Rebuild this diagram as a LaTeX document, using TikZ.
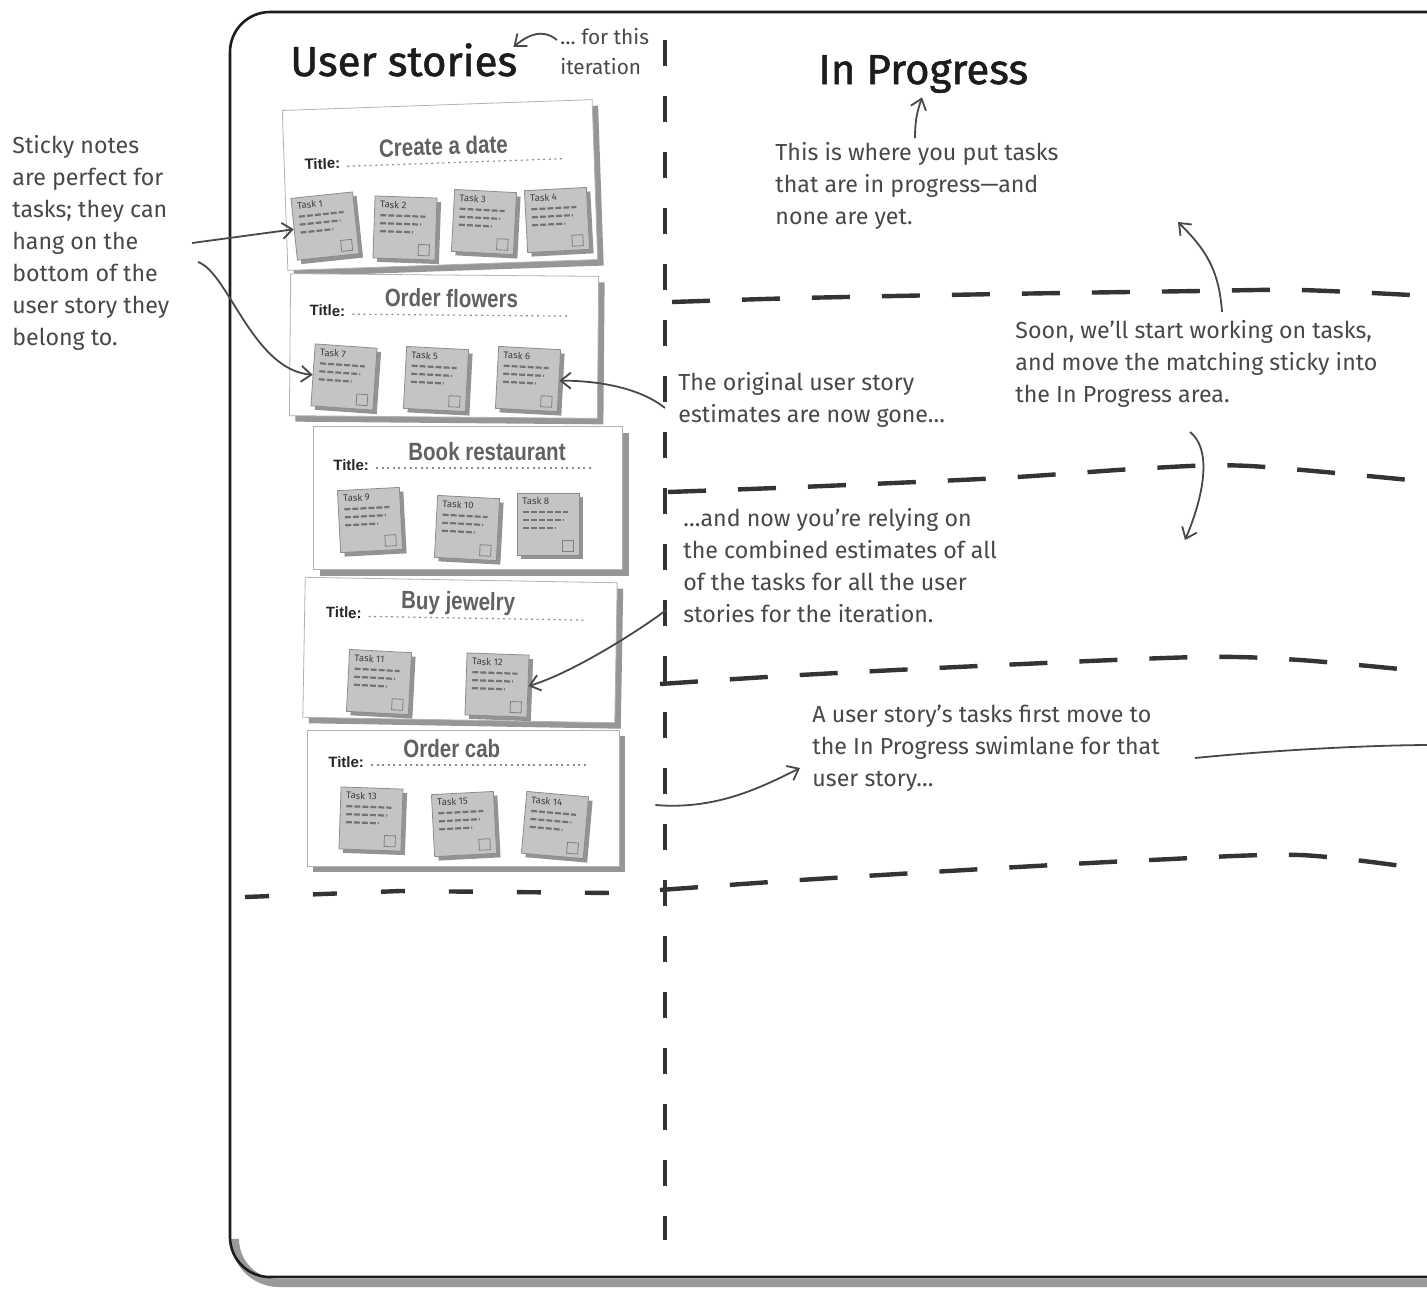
\documentclass[tikz,border=0pt]{standalone}
\usepackage{fontspec}
\setmainfont{Fira Sans}
\newfontfamily\headfont[FakeBold=1.3]{Fira Sans}
\newfontfamily\titlefont[FakeStretch=0.82]{Liberation Sans}
\newfontfamily\tagfont{Liberation Sans}
\usetikzlibrary{arrows.meta,shadows,calc}
\definecolor{pencil}{RGB}{72,72,72}
\definecolor{inkdark}{RGB}{28,28,28}
\definecolor{postit}{RGB}{196,196,196}
\definecolor{lanedash}{RGB}{52,52,52}

\begin{document}
\begin{tikzpicture}[x=0.5pt,y=-0.5pt,
    note/.style={font=\fontsize{11.6}{16}\selectfont,text=pencil,align=left,anchor=north west,inner sep=0pt},
    head/.style={font=\headfont\fontsize{21}{24}\selectfont,text=inkdark,anchor=base west,inner sep=0pt},
    card/.style={draw=black!30,fill=white,inner sep=0pt,drop shadow={shadow xshift=3pt,shadow yshift=-3pt,fill=black!75,opacity=.55}},
    titletag/.style={font=\tagfont\bfseries\fontsize{7.5}{8}\selectfont,text=black!85,anchor=base west,inner sep=0pt},
    titletxt/.style={font=\titlefont\bfseries\fontsize{12.5}{14}\selectfont,text=black!62,anchor=base west,inner sep=0pt},
    dotrule/.style={black!45,line width=0.6pt,dash pattern=on 1pt off 1.8pt},
    sticky/.style={draw=black!45,fill=postit,minimum width=31pt,minimum height=31pt,inner sep=0pt,drop shadow={shadow xshift=2pt,shadow yshift=-2pt,fill=black!70,opacity=.6}},
    tasktag/.style={font=\fontsize{4.8}{5}\selectfont,text=black!75,anchor=north west,inner sep=0pt},
    scribble/.style={black!55,line width=1.1pt,dash pattern=on 3pt off 1pt},
    lane/.style={lanedash,line width=2.2pt,dash pattern=on 19pt off 16pt},
    divider/.style={lanedash,line width=2pt,dash pattern=on 13pt off 15pt},
    hand/.style={pencil,line width=0.9pt,-{Straight Barb[length=5pt,width=8pt]}}]
  \fill[white] (0,0) rectangle (1427,1292);
  \clip (0,0) rectangle (1427,1292);
  % the board
  \draw[black!40,line width=4pt,rounded corners=22pt] (235,1245) -- (235,1283) -- (1435,1283);
  \draw[inkdark,line width=1.3pt,rounded corners=20pt] (1435,12) -- (230,12) -- (230,1277) -- (1435,1277);
  \draw[divider] (665,40) -- (665,1240);
  \draw[lane] plot[smooth] coordinates {(672,302) (800,298) (1000,294) (1200,291) (1300,290) (1430,296)};
  \draw[lane] plot[smooth] coordinates {(668,492) (800,487) (1000,478) (1150,468) (1250,466) (1430,482)};
  \draw[lane] plot[smooth] coordinates {(660,684) (800,675) (1000,665) (1200,657) (1300,660) (1430,672)};
  \draw[lane] plot[smooth] coordinates {(660,890) (800,880) (1000,868) (1150,860) (1300,855) (1430,870)};
  \draw[lane,dash pattern=on 12pt off 22pt] (245,897) -- (400,891) -- (615,893);
  % story cards
  \foreach \nm/\cx/\cy/\w/\h/\ang/\ty/\ttl in {c1/440/185/155pt/80pt/2/-20/Create a date,
      c2/444/346/154pt/71pt/-0.5/-29/Order flowers,
      c3/468/498/154.5pt/71.5pt/0/-28/Book restaurant,
      c4/460/650/156pt/70pt/-1/-30/Buy jewelry,
      c5/463/798/156pt/68pt/0/-31/Order cab}{
    \begin{scope}[shift={(\cx,\cy)},rotate=\ang,transform shape]
      \node[card,minimum width=\w,minimum height=\h] (\nm) at (0,0) {};
      \node[titletag] at (-135,\ty) {Title:};
      \draw[dotrule] (-92,\ty-2) -- (125,\ty-2);
      \node[titletxt] at (-60,\ty-10) {\ttl};
    \end{scope}
  }
  % task stickies
  \foreach \nm/\sx/\sy/\ang/\lbl in {s1/325/226/6/Task 1,s2/405/228/-2/Task 2,s3/484/222/-3/Task 3,s4/557/220/3/Task 4,
      s7/344/377/-4/Task 7,s5/436/379/-3/Task 5,s6/528/379/-3/Task 6,
      s9/370/520/3/Task 9,s10/467/528/-3/Task 10,s8/548/524/0/Task 8,
      s11/379/682/-3/Task 11,s12/497/685/-2/Task 12,
      s13/371/819/-2/Task 13,s15/464/824/3/Task 15,s14/555/825/-5/Task 14}{
    \begin{scope}[shift={(\sx,\sy)},rotate=\ang,transform shape]
      \node[sticky] (\nm) at (0,0) {};
      \node[tasktag] at (-26,-27) {\lbl};
      \foreach \ly/\lx in {-12/20,-4/16,4/8}
        \draw[scribble] (-25,\ly) -- (\lx,\ly);
      \draw[black!50,line width=0.4pt] (14,16) rectangle (25,27);
    \end{scope}
  }
  % headings and notes
  \node[head] (stories) at (290,76) {User stories};
  \node[note,font=\fontsize{10.4}{15}\selectfont] (iter) at (560,28) {\dots{} for this\\iteration};
  \node[head] (inprog) at (818,84) {In Progress};
  \node[note] (notes) at (12,135) {Sticky notes\\are perfect for\\tasks; they can\\hang on the\\bottom of the\\user story they\\belong to.};
  \node[note] (where) at (775,142) {This is where you put tasks\\that are in progress---and\\none are yet.};
  \node[note] (soon) at (1015,320) {Soon, we'll start working on tasks,\\and move the matching sticky into\\the In Progress area.};
  \node[note] (orig) at (678,372) {The original user story\\estimates are now gone\dots};
  \node[note] (comb) at (683,508) {\dots and now you're relying on\\the combined estimates of all\\of the tasks for all the user\\stories for the iteration.};
  \node[note] (move) at (812,705) {A user story's tasks first move to\\the In Progress swimlane for that\\user story\dots};
  \coordinate (laneup) at (1178,222);
  \coordinate (lanedown) at (1185,540);
  \coordinate (offpage) at (1432,745);
  % pencil arrows
  \draw[hand] ($(iter.north west)+(-3,12)$) .. controls +(-15,-12) and +(15,-12) .. ($(stories.north east)+(-4,4)$);
  \draw[hand] ($(where.north west)+(140,-4)$) .. controls +(0,-20) and +(-4,12) .. ($(inprog.south west)+(104,4)$);
  \draw[hand] ($(notes.north west)+(180,108)$) -- (s1.west);
  \draw[hand] ($(notes.north west)+(186,127)$) .. controls +(30,10) and +(-60,-5) .. (s7.west);
  \draw[hand] ($(soon.north west)+(207,-8)$) .. controls +(-3,-45) and +(25,25) .. (laneup);
  \draw[hand] ($(soon.north west)+(175,112)$) .. controls +(25,20) and +(15,-35) .. (lanedown);
  \draw[hand] ($(orig.north west)+(-13,36)$) .. controls +(-25,-20) and +(40,0) .. (s6.east);
  \draw[hand] ($(comb.north west)+(-17,102)$) .. controls +(-12,10) and +(50,-15) .. (s12.east);
  \draw[hand] ($(c5.east)+(36,7)$) .. controls +(60,5) and +(-40,20) .. ($(move.north west)+(-12,63)$);
  \draw[pencil,line width=0.9pt] ($(move.north west)+(383,53)$) .. controls +(80,-8) and +(-60,0) .. (offpage);
\end{tikzpicture}
\end{document}
